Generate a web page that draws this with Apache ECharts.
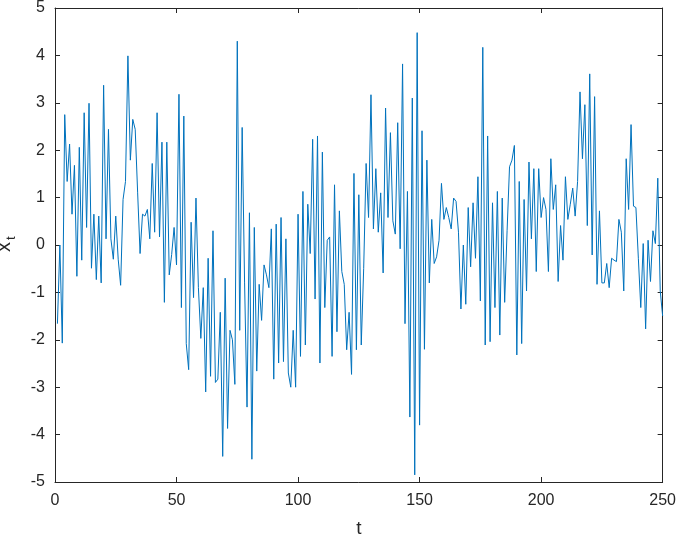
<!DOCTYPE html>
<html>
<head>
<meta charset="utf-8">
<script src="https://cdn.jsdelivr.net/npm/echarts@6/dist/echarts.min.js"></script>
<style>
  html, body { margin: 0; padding: 0; background: #fff; }
  #main { width: 679px; height: 543px; }
</style>
</head>
<body>
<div id="main"></div>
<script>
// x_t values, t = 1..250
var xtValues = [
  -1.66, 0.0, -2.07, 2.75, 1.34, 2.13, 0.65, 1.68, -0.66, 2.06,
  -0.32, 2.79, 0.37, 2.99, -0.49, 0.65, -0.73, 0.61, -0.8, 3.37,
  0.13, 2.44, 0.13, -0.3, 0.61, -0.3, -0.85, 0.96, 1.34, 3.99,
  1.79, 2.65, 2.44, 1.1, -0.18, 0.65, 0.61, 0.75, 0.13, 1.72,
  0.27, 2.79, 0.17, 2.17, -1.21, 2.17, -0.63, -0.2, 0.37, -0.42,
  3.18, -1.32, 2.72, -2.08, -2.63, 0.48, -1.11, 0.99, -0.9, -1.97,
  -0.9, -3.1, -0.28, -2.77, 0.3, -2.9, -2.83, -1.42, -4.46, -0.7,
  -3.87, -1.8, -2.0, -2.94, 4.3, -1.8, 2.48, -0.8, -3.42, 0.68,
  -4.52, 0.37, -2.66, -0.83, -1.59, -0.42, -0.63, -0.9, 0.34, -2.83,
  0.44, -2.49, 0.58, -2.46, 0.13, -2.7, -3.0, -1.8, -3.0, 0.65,
  -2.35, 1.13, -2.11, 0.86, -0.18, 2.23, -1.14, 2.3, -2.49, 1.96,
  -1.32, 0.1, 0.17, -2.35, 1.27, -1.83, 0.72, -0.56, -0.83, -2.21,
  -1.42, -2.73, 1.51, -2.21, 1.06, -2.11, -0.5, 1.72, 0.58, 3.17,
  0.34, 1.61, 0.27, 1.1, -0.59, 2.89, 0.58, 2.37, 0.51, 0.23,
  2.58, -0.08, 3.82, -1.66, 1.13, -3.63, 3.1, -4.85, 4.48, -3.8,
  2.41, -2.2, 1.79, -0.8, 0.54, -0.39, -0.25, 0.1, 1.3, 0.54,
  0.79, 0.58, 0.34, 0.99, 0.92, 0.27, -1.35, 0.0, -1.25, 0.79,
  -0.46, 0.89, -0.28, 1.44, -1.18, 4.17, -2.11, 2.3, -2.04, 0.89,
  -1.32, 1.13, -1.9, 0.99, -1.21, 0.3, 1.65, 1.79, 2.1, -2.32,
  1.34, -2.08, 0.96, -0.97, 1.75, 0.13, 1.61, -0.56, 1.61, 0.58,
  1.0, 0.75, -0.56, 1.82, 0.75, 1.27, -0.77, 0.41, -0.32, 1.44,
  0.54, 0.86, 1.2, 0.61, 1.34, 3.23, 1.82, 2.96, 0.41, 3.61,
  -0.21, 3.13, -0.83, 0.72, -0.8, -0.8, -0.39, -0.9, -0.28, -0.32,
  -0.35, 0.54, 0.27, -0.97, 1.82, 0.75, 2.54, 0.82, 0.79, -0.28,
  -1.32, 0.03, -1.77, 0.1, -0.77, 0.3, 0.03, 1.41, -0.97, -1.5
];
var tStart = 1;
var xTicks = [0, 250, 50];   // min, max, step
var yTicks = [-5, 5, 1];

var seriesData = xtValues.map(function (v, i) { return [tStart + i, v]; });

var axisColor = '#262626';
var fontFam = '"Liberation Sans", Arial, Helvetica, sans-serif';

function xAx(pos, labels) {
  return {
    type: 'value', position: pos, min: xTicks[0], max: xTicks[1], interval: xTicks[2],
    axisLine: { show: true, onZero: false, lineStyle: { color: axisColor, width: 1 } },
    axisTick: { show: true, inside: true, length: 5, lineStyle: { color: axisColor } },
    axisLabel: { show: labels, color: axisColor, fontSize: 16, fontFamily: fontFam, margin: 11 },
    splitLine: { show: false }
  };
}
function yAx(pos, labels) {
  return {
    type: 'value', position: pos, min: yTicks[0], max: yTicks[1], interval: yTicks[2],
    axisLine: { show: true, onZero: false, lineStyle: { color: axisColor, width: 1 } },
    axisTick: { show: true, inside: true, length: 5, lineStyle: { color: axisColor } },
    axisLabel: { show: labels, color: axisColor, fontSize: 16, fontFamily: fontFam, margin: 10 },
    splitLine: { show: false }
  };
}

var chart = echarts.init(document.getElementById('main'));
var xBottom = xAx('bottom', true);
xBottom.name = 't';
xBottom.nameLocation = 'middle';
xBottom.nameGap = 37;
xBottom.nameTextStyle = { color: axisColor, fontSize: 19, fontFamily: fontFam };

chart.setOption({
  animation: false,
  backgroundColor: '#fff',
  grid: { left: 55, right: 14, top: 5, bottom: 55, containLabel: false },
  xAxis: [xBottom, xAx('top', false)],
  yAxis: [yAx('left', true), yAx('right', false)],
  graphic: [{
    type: 'group', x: 14, y: 247, rotation: Math.PI / 2,
    children: [
      { type: 'text', x: 0, y: 0, style: { text: 'x', fill: axisColor, font: '20px ' + fontFam, textAlign: 'center', textVerticalAlign: 'bottom' } },
      { type: 'text', x: 7, y: 4, style: { text: 't', fill: axisColor, font: '13px ' + fontFam, textAlign: 'left', textVerticalAlign: 'bottom' } }
    ]
  }],
  series: [{
    type: 'line', xAxisIndex: 0, yAxisIndex: 0,
    data: seriesData, showSymbol: false,
    lineStyle: { color: '#0072BD', width: 1 }
  }]
});
</script>
</body>
</html>
